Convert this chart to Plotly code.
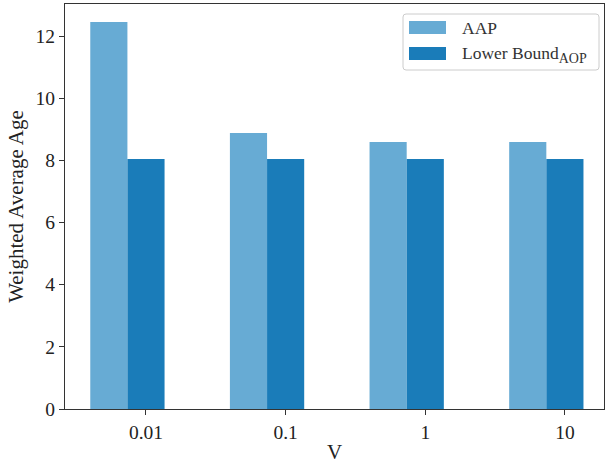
import plotly.graph_objects as go

categories = ["0.01", "0.1", "1", "10"]
aap = [12.45, 8.88, 8.59, 8.59]
lower_bound = [8.04, 8.04, 8.04, 8.04]
series_names = ["AAP", "Lower Bound<sub><span style='font-size:14px'>AOP</span></sub>"]

light = "#67abd4"
dark = "#1a7cb9"
font_family = "Liberation Serif, Times New Roman, DejaVu Serif, serif"

W, H = 606, 464
ML, MR, MT, MB = 65, 2, 4, 55
PW, PH = W - ML - MR, H - MT - MB


def px(x):
    return (x - ML) / PW


def py(y):
    return (H - MB - y) / PH


positions = list(range(len(categories)))
bar_w = 0.266

fig = go.Figure()
fig.add_trace(go.Bar(x=positions, y=aap, name=series_names[0], width=bar_w, offset=-1.5 * bar_w,
                     marker=dict(color=light, line=dict(width=0)), showlegend=False))
fig.add_trace(go.Bar(x=positions, y=lower_bound, name=series_names[1],
                     width=bar_w, offset=-0.5 * bar_w,
                     marker=dict(color=dark, line=dict(width=0)), showlegend=False))

# Manual legend (matplotlib-like wide patches)
shapes = []
annotations = []
x0, x1, y0, y1 = px(403), px(599), py(70), py(14)
r = 3
rx, ry = r / PW, r / PH
path = (f"M {x0+rx},{y0} L {x1-rx},{y0} Q {x1},{y0} {x1},{y0+ry} "
        f"L {x1},{y1-ry} Q {x1},{y1} {x1-rx},{y1} L {x0+rx},{y1} Q {x0},{y1} {x0},{y1-ry} "
        f"L {x0},{y0+ry} Q {x0},{y0} {x0+rx},{y0} Z")
shapes.append(dict(type="path", xref="paper", yref="paper", path=path,
                   fillcolor="rgba(255,255,255,0.8)", line=dict(color="#cccccc", width=1)))
patch_rows = [(21, 34, light), (47, 60, dark)]
for (ty, by, col), name in zip(patch_rows, series_names):
    shapes.append(dict(type="rect", xref="paper", yref="paper",
                       x0=px(409), x1=px(446), y0=py(by), y1=py(ty),
                       fillcolor=col, line=dict(width=0)))
    annotations.append(dict(xref="paper", yref="paper", x=px(460), y=py((ty + by) / 2 + 0.5),
                            xanchor="left", yanchor="middle", text=name, showarrow=False,
                            font=dict(family=font_family, size=17.5, color="#333")))

fig.update_layout(
    width=W, height=H,
    margin=dict(l=ML, r=MR, t=MT, b=MB),
    barmode="overlay",
    plot_bgcolor="white", paper_bgcolor="white",
    font=dict(family=font_family, size=19, color="#222"),
    showlegend=False,
    shapes=shapes,
    annotations=annotations,
    xaxis=dict(range=[-0.58, 3.28], tickvals=positions, ticktext=categories,
               title=dict(text="V", font=dict(family=font_family, size=21), standoff=4),
               showline=True, linecolor="#333", linewidth=1.2, mirror=True,
               ticks="outside", ticklen=5, tickcolor="#333",
               tickfont=dict(family=font_family, size=19.5),
               showgrid=False, zeroline=False),
    yaxis=dict(range=[0, 13.03], dtick=2,
               title=dict(text="Weighted Average Age", font=dict(family=font_family, size=21), standoff=6),
               showline=True, linecolor="#333", linewidth=1.2, mirror=True,
               ticks="outside", ticklen=5, tickcolor="#333",
               tickfont=dict(family=font_family, size=19.5),
               showgrid=False, zeroline=False),
)

fig.write_html("out.html")
